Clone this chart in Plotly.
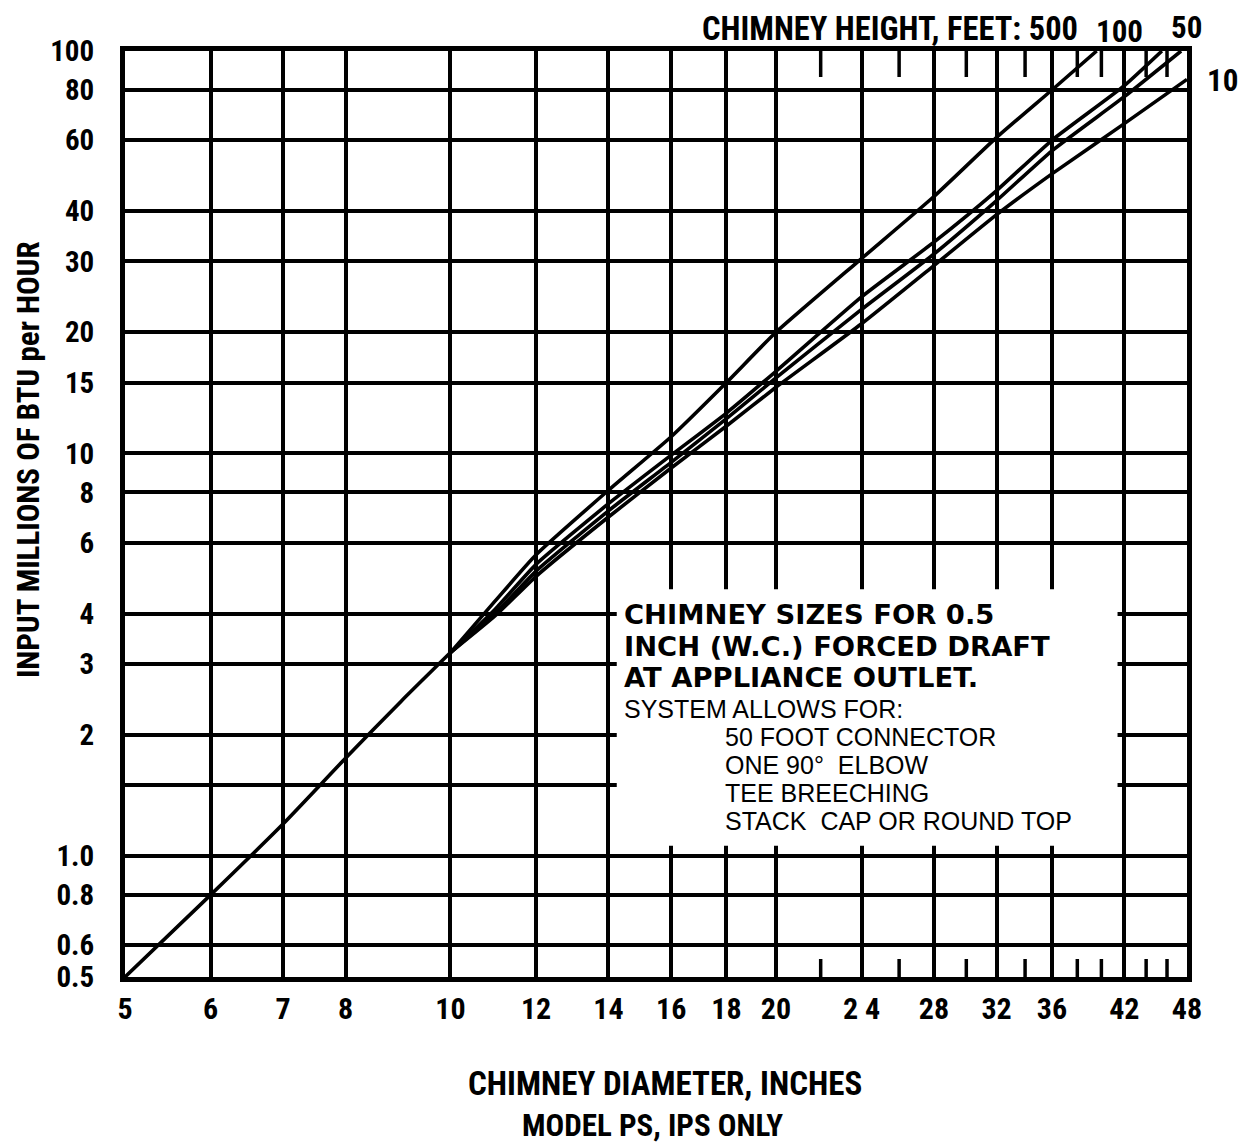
import math
import plotly.graph_objects as go

# ---------------- data ----------------
x_grid = [5, 6, 7, 8, 10, 12, 14, 16, 18, 20, 24, 28, 32, 36, 42, 48]
x_labels = ["5", "6", "7", "8", "10", "12", "14", "16", "18", "20", "2 4", "28", "32", "36", "42", "48"]
y_grid = [0.5, 0.6, 0.8, 1.0, 1.5, 2, 3, 4, 6, 8, 10, 15, 20, 30, 40, 60, 80, 100]
y_labels = ["0.5", "0.6", "0.8", "1.0", "", "2", "3", "4", "6", "8", "10", "15", "20", "30", "40", "60", "80", "100"]
minor_x = [22, 26, 30, 34, 38, 40, 44, 46]

# common trunk (all chimney heights coincide)
trunk_x = [5, 6, 7, 8, 9, 10]
trunk_y = [0.5, 0.8, 1.2, 1.75, 2.42, 3.2]

# chimney height curves
h500_x = [10, 11, 12, 14, 16, 18, 20, 24, 28, 32, 36, 39.6]
h500_y = [3.2, 4.3, 5.6, 8.1, 11.0, 15.0, 20.0, 30.5, 43.5, 61, 80, 100]
h100_x = [10, 11, 12, 14, 16, 18, 20, 24, 28, 32, 36, 42, 45.5]
h100_y = [3.2, 4.1, 5.3, 7.5, 9.9, 12.6, 16.0, 24.5, 33.5, 45, 60, 82, 100]
h50_x = [10, 11, 12, 14, 16, 18, 20, 24, 28, 32, 36, 42, 47.4]
h50_y = [3.2, 4.0, 5.1, 7.2, 9.5, 12.2, 15.4, 22.8, 31.3, 42.5, 56.5, 77, 100]
h10_x = [10, 11, 12, 14, 16, 18, 20, 24, 28, 32, 36, 42, 48]
h10_y = [3.2, 3.95, 4.95, 6.95, 9.2, 11.7, 14.6, 21.0, 29.3, 39.2, 49.5, 66, 85]

series = [(trunk_x, trunk_y), (h500_x, h500_y), (h100_x, h100_y), (h50_x, h50_y), (h10_x, h10_y)]

# note box extent (data units)
box_x = [14.25, 41.4]
box_y = [1.06, 4.6]

# ---------------- styling ----------------
NARROW = "Liberation Sans Narrow, Arial Narrow, Roboto Condensed, Liberation Sans, Arial, sans-serif"
REG = "Liberation Sans, Arial, Helvetica, sans-serif"
BOLDBOX = "DejaVu Sans, Liberation Sans, Arial, sans-serif"

OFF = 8                      # page body margin
W, H = 1247 - OFF, 1145 - OFF
L, R, T, B = 125, 1187, 51, 977   # plot area in page pixels


def px(xp):
    return (xp - L) / (R - L)


def py(yp):
    return (B - yp) / (B - T)


fig = go.Figure()
for sx, sy in series:
    fig.add_trace(go.Scatter(
        x=sx, y=sy, mode="lines",
        line=dict(color="black", width=3.6, shape="spline", smoothing=0.5),
        showlegend=False, hoverinfo="skip"))

shapes = []
# white note box hiding the grid
shapes.append(dict(type="rect", xref="x", yref="y", x0=box_x[0], x1=box_x[1], y0=box_y[0], y1=box_y[1],
                   fillcolor="white", line=dict(width=0), layer="above"))
# short ticks at top and bottom
for mx in minor_x:
    shapes.append(dict(type="line", xref="x", yref="paper", x0=mx, x1=mx, y0=1, y1=1 - 26 / (B - T),
                       line=dict(color="black", width=3.5), layer="above"))
    shapes.append(dict(type="line", xref="x", yref="paper", x0=mx, x1=mx, y0=0, y1=18 / (B - T),
                       line=dict(color="black", width=3.5), layer="above"))

ann = []


def text(s, xp, yp, size, font=NARROW, bold=True, xanchor="center", angle=0):
    ann.append(dict(text=s, x=px(xp), y=py(yp), xref="paper", yref="paper", showarrow=False,
                    xanchor=xanchor, yanchor="middle", textangle=angle,
                    font=dict(family=font, size=size, color="black", weight="bold" if bold else "normal")))


# chimney height labels
text("CHIMNEY HEIGHT, FEET: 500", 1080, 29, 32.5, xanchor="right")
text("100", 1119, 31, 31)
text("50", 1186, 28, 31)
text("10", 1222, 80, 31)

# box text
text("CHIMNEY SIZES FOR 0.5", 622, 614, 27.4, font=BOLDBOX, xanchor="left")
text("INCH (W.C.) FORCED DRAFT", 622, 646, 27.4, font=BOLDBOX, xanchor="left")
text("AT APPLIANCE OUTLET.", 622, 678, 27.4, font=BOLDBOX, xanchor="left")
text("SYSTEM ALLOWS FOR:", 622, 709, 25, font=REG, bold=False, xanchor="left")
text("50 FOOT CONNECTOR", 723, 737, 25, font=REG, bold=False, xanchor="left")
text("ONE 90\u00b0\u00a0 ELBOW", 723, 765, 25, font=REG, bold=False, xanchor="left")
text("TEE BREECHING", 723, 793, 25, font=REG, bold=False, xanchor="left")
text("STACK\u00a0 CAP OR ROUND TOP", 723, 821, 25, font=REG, bold=False, xanchor="left")

# axis titles
text("INPUT MILLIONS OF BTU per HOUR", 28, 460, 31, angle=-90)
text("CHIMNEY DIAMETER, INCHES", 665, 1083, 33)
text("MODEL PS, IPS ONLY", 652, 1125, 31)

axis_common = dict(type="log", showgrid=True, gridcolor="black", gridwidth=3.5,
                   showline=True, linecolor="black", linewidth=5, mirror=True,
                   ticks="", zeroline=False, fixedrange=True)

fig.update_layout(
    width=W, height=H,
    margin=dict(l=L - OFF, r=(W + OFF) - R, t=T - OFF, b=(H + OFF) - B, pad=0),
    paper_bgcolor="white", plot_bgcolor="white",
    xaxis=dict(range=[math.log10(5), math.log10(48)], tickvals=x_grid, ticktext=x_labels,
               tickfont=dict(family=NARROW, size=30, color="black", weight="bold"),
               ticklabelstandoff=1, **axis_common),
    yaxis=dict(range=[math.log10(0.5), math.log10(100)], tickvals=y_grid, ticktext=y_labels,
               tickfont=dict(family=NARROW, size=29, color="black", weight="bold"),
               ticklabelstandoff=20, **axis_common),
    shapes=shapes, annotations=ann, showlegend=False,
)

fig.write_html("out.html")
